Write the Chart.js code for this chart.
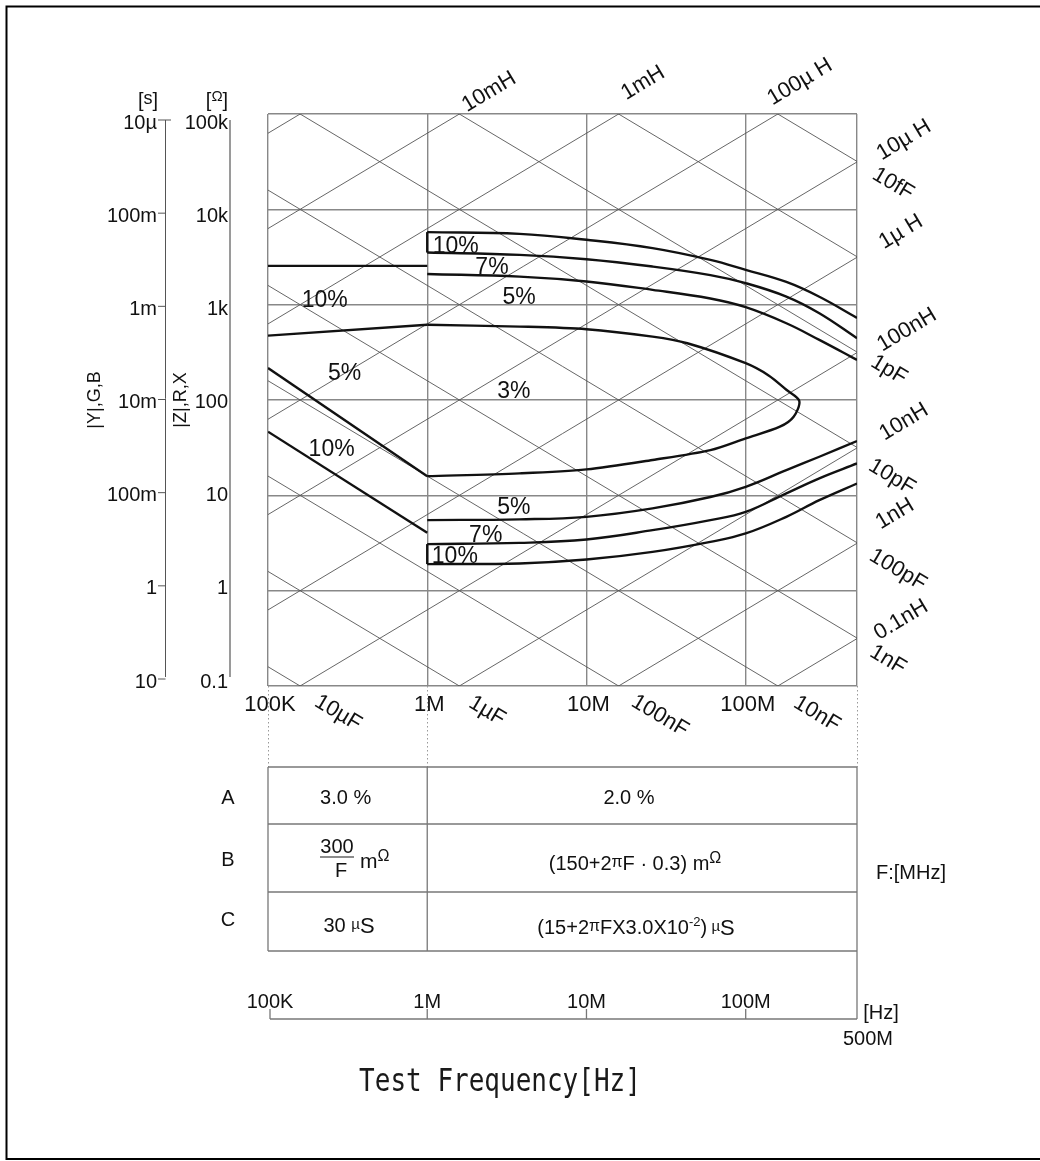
<!DOCTYPE html>
<html>
<head>
<meta charset="utf-8">
<title>Exactitud de medida</title>
<script src="https://cdn.jsdelivr.net/npm/chart.js"></script>
<style>
  html, body { margin: 0; padding: 0; background: #fff; }
  canvas { display: block; }
</style>
</head>
<body>
<canvas id="grafico" width="1040" height="1161"></canvas>
<script>
// --- datos (frecuencia en Hz, impedancia en ohm) ---
const FREQ_HI = [1e6, 3.8e6, 1e7, 2.6e7, 6e7, 1e8, 1.8e8, 2.9e8, 5e8];
const Z_UP_10 = [5770, 5530, 4790, 3920, 2950, 2320, 1730, 1210, 726];
const Z_UP_7  = [3520, 3330, 3000, 2510, 2040, 1680, 1215, 813, 445];
const Z_UP_5  = [2100, 1970, 1750, 1430, 1160, 940, 638, 427, 263];
const Z_LO_5  = [5.5, 5.6, 5.95, 7.3, 9.6, 12.3, 18.4, 25.4, 37.1];
const Z_LO_7  = [3.08, 3.17, 3.44, 4.31, 5.5, 6.7, 10.5, 15.1, 21.6];
const Z_LO_10 = [1.9, 1.93, 2.12, 2.55, 3.25, 3.98, 5.95, 8.9, 13.3];

const FREQ_3 = [1e6, 3.8e6, 1e7, 2.6e7, 4.3e7, 1e8, 1.4e8, 1.8e8, 2.17e8, 2.0e8, 1.64e8, 1e8, 6e7, 2.6e7, 1e7, 3.8e6, 1e6];
const Z_3    = [615, 589, 553, 462, 394, 243, 180, 128, 98, 66.8, 52.5, 39.6, 29.8, 23.5, 18.7, 17.0, 15.9];

const FREQ_LO = [1e5, 1e6];
const Z_LEFT_10_UP = [2550, 2550];
const Z_LEFT_5_UP  = [473, 615];
const Z_LEFT_5_LO  = [217, 15.9];
const Z_LEFT_10_LO = [46.5, 4.04];

// rectas de reactancia
const L_VALS = [1e-1, 1e-2, 1e-3, 1e-4, 1e-5, 1e-6, 1e-7, 1e-8, 1e-9, 1e-10];
const C_VALS = [1e-5, 1e-6, 1e-7, 1e-8, 1e-9, 1e-10, 1e-11, 1e-12, 1e-13, 1e-14];
const DIAG_F = [1e5, 5e8];

// ejes
const X_GRID = [1e5, 1e6, 1e7, 1e8, 5e8];
const X_TICKS = [1e5, 1e6, 1e7, 1e8];
const X_TICK_TEXT = ['100K', '1M', '10M', '100M'];
const Y_GRID = [0.1, 1, 10, 100, 1e3, 1e4, 1e5];
const Z_TICKS = [1e5, 1e4, 1e3, 100, 10, 1, 0.1];
const Z_TICK_TEXT = ['100k', '10k', '1k', '100', '10', '1', '0.1'];
const Y_TICK_TEXT = ['10\u00b5', '100m', '1m', '10m', '100m', '1', '10'];

// etiquetas de porcentaje (posicion en frecuencia / impedancia)
const PCT_TEXT = ['10%', '5%', '10%', '10%', '7%', '5%', '3%', '5%', '7%', '10%'];
const PCT_FREQ = [2.27e5, 3.03e5, 2.51e5, 1.51e6, 2.55e6, 3.77e6, 3.5e6, 3.5e6, 2.33e6, 1.49e6];
const PCT_IMP  = [1094, 187, 29.8, 4040, 2430, 1178, 121, 7.35, 3.82, 2.3];

// etiquetas de las rectas (texto, x, y en pixeles)
const L_LABELS = [['10mH', 489, 92], ['1mH', 643, 83], ['100\u00b5 H', 800, 82],
  ['10\u00b5 H', 904, 140], ['1\u00b5 H', 901, 232], ['100nH', 907, 330], ['10nH', 904, 422],
  ['1nH', 895, 514], ['0.1nH', 901, 620]];
const C_LABELS = [['10fF', 893, 184], ['1pF', 889, 370], ['10pF', 892, 477], ['100pF', 898, 570],
  ['1nF', 888, 660], ['10\u00b5F', 338, 713], ['1\u00b5F', 487, 711], ['100nF', 660, 716], ['10nF', 817, 714]];

const FONT = '"Liberation Sans", Arial, sans-serif';
const font = s => s + 'px ' + FONT;

function serie(fs, zs) {
    return fs.map((f, i) => ({ x: f, y: zs[i] }));
}

function curva(fs, zs, extra) {
    return Object.assign({
        data: serie(fs, zs),
        borderColor: '#111',
        borderWidth: 2.4,
        pointRadius: 0,
        showLine: true,
        fill: false,
        tension: 0.4,
        order: 0
    }, extra || {});
}

const recta = { tension: 0 };

const diagonales = [
    ...L_VALS.map(L => ({ data: DIAG_F.map(f => ({ x: f, y: 2 * Math.PI * f * L })) })),
    ...C_VALS.map(C => ({ data: DIAG_F.map(f => ({ x: f, y: 1 / (2 * Math.PI * f * C) })) }))
].map(d => Object.assign(d, {
    borderColor: '#555', borderWidth: 0.9, pointRadius: 0, showLine: true, tension: 0, order: 2
}));

const datasets = [
    curva(FREQ_HI, Z_UP_10),
    curva(FREQ_HI, Z_UP_7),
    curva(FREQ_HI, Z_UP_5),
    curva(FREQ_HI, Z_LO_5),
    curva(FREQ_HI, Z_LO_7),
    curva(FREQ_HI, Z_LO_10),
    curva(FREQ_3, Z_3, { tension: 0.3 }),
    curva(FREQ_LO, Z_LEFT_10_UP, recta),
    curva(FREQ_LO, Z_LEFT_5_UP, recta),
    curva(FREQ_LO, Z_LEFT_5_LO, recta),
    curva(FREQ_LO, Z_LEFT_10_LO, recta),
    curva([1e6, 1e6], [Z_UP_7[0], Z_UP_10[0]], recta),
    curva([1e6, 1e6], [Z_LO_10[0], Z_LO_7[0]], recta),
    ...diagonales
];

function drawPieces(ctx, pieces, x, base, align) {
    let w = 0;
    pieces.forEach(p => { ctx.font = font(p.s); w += ctx.measureText(p.t).width; });
    let cx = align === 'center' ? x - w / 2 : x;
    ctx.textAlign = 'left';
    ctx.textBaseline = 'alphabetic';
    pieces.forEach(p => {
        ctx.font = font(p.s);
        ctx.fillText(p.t, cx, base + (p.dy || 0));
        cx += ctx.measureText(p.t).width;
    });
}

function rotText(ctx, t, cx, cy, deg, s) {
    ctx.save();
    ctx.translate(cx, cy);
    ctx.rotate(deg * Math.PI / 180);
    ctx.font = font(s);
    ctx.textAlign = 'center';
    ctx.textBaseline = 'middle';
    ctx.fillText(t, 0, 0);
    ctx.restore();
}

function linea(ctx, x1, y1, x2, y2) {
    ctx.beginPath();
    ctx.moveTo(x1, y1);
    ctx.lineTo(x2, y2);
    ctx.stroke();
}

const decor = {
    id: 'decor',
    beforeDraw(chart) {
        const ctx = chart.ctx;
        ctx.save();
        ctx.fillStyle = '#fff';
        ctx.fillRect(0, 0, chart.width, chart.height);
        ctx.restore();
    },
    afterDraw(chart) {
        const { ctx, chartArea: a, scales: { x, y } } = chart;
        const ANG = Math.atan(95.2 / 159.1) * 180 / Math.PI;
        ctx.save();
        ctx.fillStyle = '#111';

        // marco exterior
        ctx.strokeStyle = '#000';
        ctx.lineWidth = 2;
        ctx.beginPath();
        ctx.moveTo(chart.width, 6.5);
        ctx.lineTo(6.5, 6.5);
        ctx.lineTo(6.5, 1159);
        ctx.lineTo(chart.width, 1159);
        ctx.stroke();

        // etiquetas de porcentaje
        ctx.font = font(23);
        ctx.textAlign = 'center';
        ctx.textBaseline = 'middle';
        PCT_TEXT.forEach((t, i) => {
            ctx.fillText(t, x.getPixelForValue(PCT_FREQ[i]), y.getPixelForValue(PCT_IMP[i]));
        });

        // etiquetas de las rectas L y C
        L_LABELS.forEach(l => rotText(ctx, l[0], l[1], l[2], -ANG, 22));
        C_LABELS.forEach(l => rotText(ctx, l[0], l[1], l[2], ANG, 22));

        // ticks de frecuencia bajo el grafico
        ctx.font = font(22);
        ctx.textAlign = 'center';
        ctx.textBaseline = 'middle';
        X_TICKS.forEach((v, i) => ctx.fillText(X_TICK_TEXT[i], x.getPixelForValue(v) + 2, a.bottom + 19));

        // ejes izquierdos
        const inner = z => {
            const d = (y.getPixelForValue(z) - a.bottom) / (a.top - a.bottom);
            return a.bottom - 6 - d * (a.bottom - a.top - 13);
        };
        const zTop = inner(1e5), zBot = inner(0.1);
        ctx.strokeStyle = '#9a9a9a';
        ctx.lineWidth = 2;
        linea(ctx, 230, zTop - 1, 230, zBot - 3);
        ctx.strokeStyle = '#555';
        ctx.lineWidth = 1;
        linea(ctx, 165.5, zTop - 1, 165.5, zBot - 3);
        ctx.font = font(20);
        ctx.textAlign = 'right';
        ctx.textBaseline = 'middle';
        Z_TICKS.forEach((z, i) => {
            const p = inner(z);
            ctx.fillText(Z_TICK_TEXT[i], 228, p + 2);
            ctx.fillText(Y_TICK_TEXT[i], 157, p + 2);
            linea(ctx, 158, p - 1, i === 0 ? 171 : 165.5, p - 1);
        });
        drawPieces(ctx, [{ t: '[', s: 20 }, { t: 's', s: 18, dy: -3 }, { t: ']', s: 20 }], 148, 107, 'center');
        drawPieces(ctx, [{ t: '[', s: 20 }, { t: '\u03a9', s: 15, dy: -6 }, { t: ']', s: 20 }], 217, 107, 'center');
        rotText(ctx, '|Y|,G,B', 95, 400, -90, 18);
        rotText(ctx, '|Z|,R,X', 181, 400, -90, 18);

        // tabla
        const x0 = x.getPixelForValue(1e5), x1 = x.getPixelForValue(1e6), x2 = x.getPixelForValue(5e8);
        const filas = [767, 824, 892, 951];
        const ejeY = 1019;
        ctx.strokeStyle = '#999';
        ctx.lineWidth = 1;
        ctx.setLineDash([1.5, 2.5]);
        [x0, x1, x2].forEach(px => linea(ctx, Math.round(px) + 0.5, a.bottom, Math.round(px) + 0.5, filas[0]));
        ctx.setLineDash([]);
        ctx.strokeStyle = '#777';
        ctx.lineWidth = 1.3;
        filas.forEach(fy => linea(ctx, x0, fy, x2, fy));
        linea(ctx, x0, filas[0], x0, filas[3]);
        linea(ctx, x1, filas[0], x1, filas[3]);
        linea(ctx, x2, filas[0], x2, ejeY);

        ctx.fillStyle = '#111';
        ctx.font = font(20);
        ctx.textAlign = 'center';
        ctx.textBaseline = 'middle';
        ctx.fillText('A', 228, 798);
        ctx.fillText('B', 228, 860);
        ctx.fillText('C', 228, 920);
        ctx.fillText('3.0 %', (x0 + x1) / 2 - 2, 798);
        ctx.fillText('2.0 %', 629, 798);
        ctx.fillText('300', 337, 847);
        ctx.fillText('F', 341, 871);
        ctx.fillText('F:[MHz]', 911, 873);
        ctx.strokeStyle = '#666';
        ctx.lineWidth = 1.5;
        linea(ctx, 320, 857, 354, 857);
        drawPieces(ctx, [{ t: 'm', s: 21 }, { t: '\u03a9', s: 16, dy: -7 }], 360, 868, 'left');
        drawPieces(ctx, [{ t: '30 ', s: 20 }, { t: '\u00b5', s: 15, dy: -3 }, { t: 'S', s: 22, dy: 1 }], 349, 932, 'center');
        drawPieces(ctx, [{ t: '(150+2', s: 20 }, { t: '\u03c0', s: 16, dy: -3 }, { t: 'F \u00b7 0.3) m', s: 20 },
            { t: '\u03a9', s: 16, dy: -7 }], 635, 870, 'center');
        drawPieces(ctx, [{ t: '(15+2', s: 20 }, { t: '\u03c0', s: 16, dy: -3 }, { t: 'FX3.0X10', s: 20 },
            { t: '-2', s: 13, dy: -8 }, { t: ')', s: 20 }, { t: ' \u00b5', s: 15, dy: -3 }, { t: 'S', s: 22, dy: 1 }],
            636, 934, 'center');

        // eje de frecuencia inferior
        ctx.strokeStyle = '#777';
        ctx.lineWidth = 1.3;
        linea(ctx, x0 + 2, ejeY, x2, ejeY);
        ctx.font = font(20);
        ctx.textAlign = 'center';
        ctx.textBaseline = 'middle';
        X_TICKS.forEach((v, i) => {
            const px = x.getPixelForValue(v) + (i === 0 ? 2 : 0);
            linea(ctx, px, ejeY - 10, px, ejeY);
            ctx.fillText(X_TICK_TEXT[i], px, ejeY - 17);
        });
        ctx.fillText('[Hz]', 881, 1013);
        ctx.fillText('500M', 868, 1039);

        // titulo
        ctx.save();
        ctx.translate(500, 1083);
        ctx.scale(1, 1.2);
        ctx.font = '26px "DejaVu Sans Mono", monospace';
        ctx.fillStyle = '#1a1a1a';
        ctx.textAlign = 'center';
        ctx.textBaseline = 'middle';
        ctx.fillText('Test Frequency[Hz]', 0, 0);
        ctx.restore();

        ctx.restore();
    }
};

new Chart(document.getElementById('grafico'), {
    type: 'scatter',
    data: { datasets: datasets },
    options: {
        responsive: false,
        devicePixelRatio: 1,
        animation: false,
        events: [],
        layout: { padding: { left: 268, right: 183, top: 114, bottom: 475 } },
        plugins: { legend: { display: false }, tooltip: { enabled: false } },
        scales: {
            x: {
                type: 'logarithmic',
                min: 1e5,
                max: 5e8,
                afterBuildTicks: s => { s.ticks = X_GRID.map(v => ({ value: v })); },
                afterFit: s => { s.height = 0; },
                ticks: { display: false },
                grid: { color: '#888', lineWidth: 1.4, drawTicks: false },
                border: { display: false }
            },
            y: {
                type: 'logarithmic',
                min: 0.1,
                max: 1e5,
                afterBuildTicks: s => { s.ticks = Y_GRID.map(v => ({ value: v })); },
                afterFit: s => { s.width = 0; },
                ticks: { display: false },
                grid: { color: '#888', lineWidth: 1.4, drawTicks: false },
                border: { display: false }
            }
        }
    },
    plugins: [decor]
});
</script>
</body>
</html>
